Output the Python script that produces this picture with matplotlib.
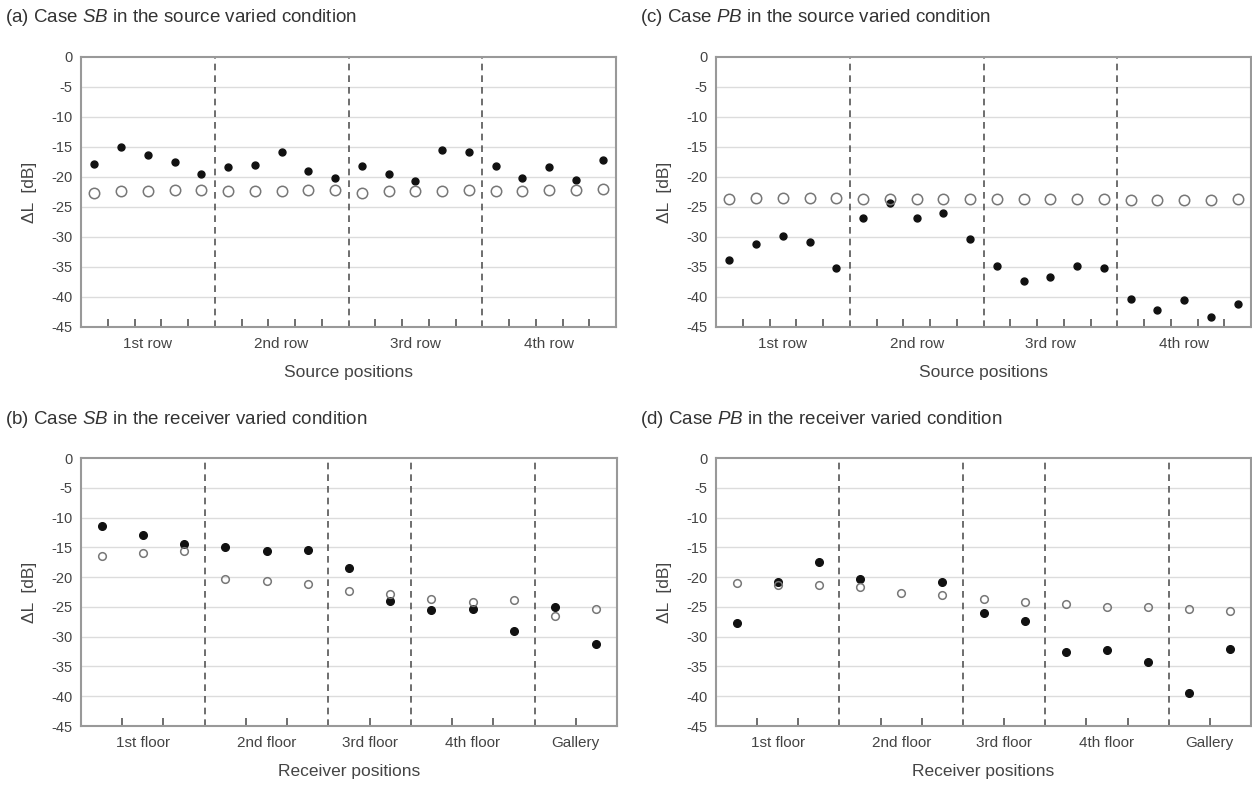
import numpy as np
import matplotlib
matplotlib.use('Agg')
import matplotlib.pyplot as plt

plt.rcParams['font.family'] = ['Liberation Sans', 'DejaVu Sans']
plt.rcParams['mathtext.fontset'] = 'custom'
plt.rcParams['mathtext.rm'] = 'Liberation Sans'
plt.rcParams['mathtext.it'] = 'Liberation Sans:italic'

# source varied condition: 4 rows x 5 source positions
src_groups = ['1st row', '2nd row', '3rd row', '4th row']
src_sizes = [5, 5, 5, 5]
sb_src_filled = [-17.9, -15.0, -16.4, -17.5, -19.5,
                 -18.3, -18.0, -15.9, -19.0, -20.1,
                 -18.2, -19.5, -20.7, -15.5, -15.9,
                 -18.2, -20.1, -18.3, -20.5, -17.1]
sb_src_open = [-22.6, -22.4, -22.3, -22.2, -22.2,
               -22.4, -22.3, -22.3, -22.2, -22.2,
               -22.6, -22.4, -22.3, -22.3, -22.2,
               -22.3, -22.3, -22.2, -22.2, -22.0]
pb_src_filled = [-33.8, -31.1, -29.8, -30.8, -35.2,
                 -26.8, -24.4, -26.9, -26.0, -30.3,
                 -34.8, -37.3, -36.7, -34.8, -35.2,
                 -40.3, -42.1, -40.5, -43.3, -41.2]
pb_src_open = [-23.6, -23.5, -23.5, -23.5, -23.5,
               -23.6, -23.7, -23.6, -23.6, -23.6,
               -23.6, -23.6, -23.6, -23.6, -23.6,
               -23.8, -23.8, -23.8, -23.8, -23.6]

# receiver varied condition
rcv_groups = ['1st floor', '2nd floor', '3rd floor', '4th floor', 'Gallery']
rcv_sizes = [3, 3, 2, 3, 2]
sb_rcv_filled = [-11.5, -12.9, -14.5, -15.0, -15.6, -15.5, -18.5,
                 -24.0, -25.5, -25.4, -29.1, -25.1, -31.2]
sb_rcv_open = [-16.4, -15.9, -15.6, -20.3, -20.6, -21.1, -22.4,
               -22.8, -23.7, -24.1, -23.9, -26.6, -25.3]
pb_rcv_filled = [-27.7, -20.9, -17.5, -20.3, np.nan, -20.8, -26.1,
                 -27.4, -32.5, -32.3, -34.2, -39.4, -32.0]
pb_rcv_open = [-21.0, -21.3, -21.3, -21.6, -22.7, -23.0, -23.7,
               -24.1, -24.5, -25.0, -25.1, -25.3, -25.7]

W, H = 1252, 785
fig = plt.figure(figsize=(W / 100, H / 100), dpi=100)


def box(l, t, r, b):
    return [l / W, 1 - b / H, (r - l) / W, (b - t) / H]


def panel(rect, title, sizes, groups, filled, opened, xlabel, ms_f, ms_o):
    ax = fig.add_axes(box(*rect))
    n = sum(sizes)
    x = np.arange(n) + 0.5
    bounds = np.cumsum(sizes)[:-1]
    starts = np.concatenate([[0], np.cumsum(sizes)[:-1]])
    centers = starts + np.array(sizes) / 2

    ax.set_xlim(0, n)
    ax.set_ylim(-45, 0)
    ax.set_yticks(np.arange(0, -46, -5))
    ax.set_yticklabels([str(v) for v in range(0, -46, -5)])
    for v in range(-5, -45, -5):
        ax.axhline(v, color='#dcdcdc', lw=1.0, zorder=0)
    for bx in bounds:
        ax.axvline(bx, color='#555555', lw=1.2, ls=(0, (4, 3)), zorder=1)

    ticks = [t for t in range(1, n) if t not in bounds]
    ax.set_xticks(ticks)
    ax.set_xticklabels([])
    ax.tick_params(axis='x', direction='in', length=6, width=1.2, color='#555555')
    ax.tick_params(axis='y', length=0, pad=6, labelsize=10.5, labelcolor='#444444')

    for s in ax.spines.values():
        s.set_color('#999999')
        s.set_linewidth(1.5)

    ax.plot(x, filled, 'o', ms=ms_f, color='#111111', zorder=3)
    ax.plot(x, opened, 'o', ms=ms_o, mfc='none', mec='#777777', mew=1.1, zorder=4)

    for c, g in zip(centers, groups):
        ax.text(c, -0.062, g, transform=ax.get_xaxis_transform(),
                ha='center', va='center', fontsize=11, color='#444444')
    ax.text(0.5, -0.17, xlabel, transform=ax.transAxes,
            ha='center', va='center', fontsize=12.5, color='#444444')
    ax.text(-0.097, 0.5, r'ΔL  [dB]', transform=ax.transAxes, rotation=90,
            ha='center', va='center', fontsize=12.5, color='#444444')
    fig.text((rect[0] - 76) / W, 1 - (rect[1] - 39) / H, title,
             ha='left', va='center', fontsize=13.5, color='#333333')
    return ax


panel((81, 57, 616, 327), r'(a) Case $\mathit{SB}$ in the source varied condition',
      src_sizes, src_groups, sb_src_filled, sb_src_open, 'Source positions', 5, 7.5)
panel((716, 57, 1251, 327), r'(c) Case $\mathit{PB}$ in the source varied condition',
      src_sizes, src_groups, pb_src_filled, pb_src_open, 'Source positions', 5, 7.5)
panel((81, 458, 617, 726), r'(b) Case $\mathit{SB}$ in the receiver varied condition',
      rcv_sizes, rcv_groups, sb_rcv_filled, sb_rcv_open, 'Receiver positions', 5.5, 5.5)
panel((716, 458, 1251, 726), r'(d) Case $\mathit{PB}$ in the receiver varied condition',
      rcv_sizes, rcv_groups, pb_rcv_filled, pb_rcv_open, 'Receiver positions', 5.5, 5.5)

fig.savefig('out.png', dpi=100)
